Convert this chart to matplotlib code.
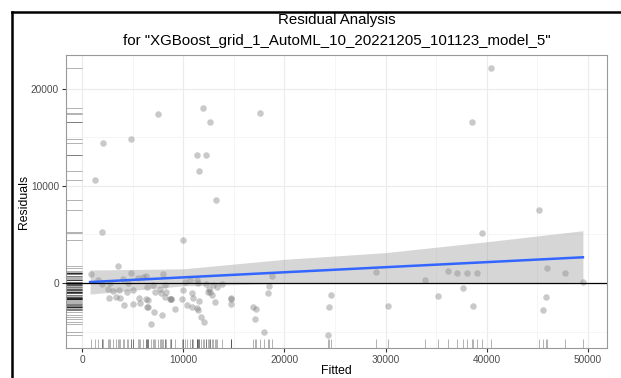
import numpy as np
import matplotlib.pyplot as plt
from matplotlib.lines import Line2D

plt.rcParams['font.family'] = ['Liberation Sans', 'DejaVu Sans']

model_id = "XGBoost_grid_1_AutoML_10_20221205_101123_model_5"

fitted = [
    3560, 860, 4810, 6350, 5560, 6030, 4080, 8030, 4540, 2770,
    1950, 2600, 3090, 3630, 4420, 5070, 6450, 6990, 7710, 7240,
    7830, 2700, 3360, 3750, 5660, 6320, 6520, 8230, 8690, 4180,
    5070, 5730, 6450, 6550, 7110, 7900, 6820, 1580,
    10180, 10670, 11390, 11490, 12220, 12970, 13370, 13860, 8200, 8300,
    8760, 8800, 10010, 9880, 10870, 11000, 11530, 12520, 12650, 12870,
    13140, 12420, 9220, 10340, 10840, 11390, 11430, 11760, 12080, 14690,
    14720, 14750,
    16870, 17190, 17060, 17980, 18480, 18400, 18800, 24600, 24370, 24340,
    29020, 30200, 33920, 35200, 36190, 37080, 37670, 38070, 38600, 39030,
    39490, 45970, 47690, 49530, 45810, 45550,
    40410, 7480, 11990, 12650, 17590, 2110, 4810, 11360, 12250, 11530,
    1250, 13210, 1980, 38560, 45120, 10010,
]

residuals = [
    1720, 900, 1030, 750, 520, 620, 380, 900, 30, -30,
    -100, -590, -820, -720, -930, -720, -380, -210, -650, -960,
    -1060, -1550, -1410, -1580, -1550, -1650, -1750, -1440, -1620, -2270,
    -2170, -2030, -2440, -2510, -2990, -3330, -4190, 310,
    130, 310, 310, 30, -100, -210, -380, -130, -210, -900,
    -1680, -1700, -720, -1680, -1000, -1520, -1820, -650, -900, -1240,
    -1990, -900, -2680, -2270, -2510, -2610, -2780, -3540, -4020, -1580,
    -1600, -2170,
    -2440, -2650, -3680, -5080, -340, -1060, 690, -1270, -2440, -5360,
    1100, -2400, 340, -1310, 1240, 1030, -520, 1030, -2400, 1060,
    5120, 1550, 1030, 100, -1440, -2780,
    22170, 17420, 18080, 16570, 17500, 14470, 14850, 13230, 13230, 11520,
    10620, 8560, 5290, 16600, 7490, 4470,
]

# linear smoother with its confidence band
smooth_x = [800, 10000, 20000, 30000, 40000, 49500]
smooth_fit = [100, 580, 1105, 1630, 2150, 2650]
smooth_lo = [-1140, -300, -50, 0, 30, 70]
smooth_hi = [1340, 1460, 2440, 3130, 4250, 5390]

fig = plt.figure(figsize=(6.21, 3.78), dpi=100)
ax = fig.add_axes([66 / 621, 1 - 348 / 378, 541 / 621, 293 / 378])

ax.set_xlim(-1580, 51880)
ax.set_ylim(-6700, 23500)

ax.set_xticks([0, 10000, 20000, 30000, 40000, 50000])
ax.set_yticks([0, 10000, 20000])
ax.set_xticks([5000, 15000, 25000, 35000, 45000], minor=True)
ax.set_yticks([-5000, 5000, 15000], minor=True)
ax.grid(which='major', color='#EBEBEB', lw=0.8, zorder=0)
ax.grid(which='minor', color='#F2F2F2', lw=0.5, zorder=0)
ax.tick_params(which='minor', length=0)
ax.tick_params(which='major', length=3, width=0.8, color='#333333',
               labelsize=7.3, labelcolor='#4D4D4D', pad=2)
for s in ax.spines.values():
    s.set_color('#999999')
    s.set_linewidth(0.8)

ax.scatter(fitted, residuals, s=22, color='#7A7A7A', alpha=0.4,
           linewidths=0, zorder=3)

ax.fill_between(smooth_x, smooth_lo, smooth_hi, color='#999999', alpha=0.4,
                linewidth=0, zorder=4)
ax.plot(smooth_x, smooth_fit, color='#3366FF', lw=1.8, zorder=5)
ax.axhline(0, color='black', lw=0.9, zorder=6)

# rugs along both axes
ax.vlines(fitted, 0, 0.03, transform=ax.get_xaxis_transform(),
          color='black', alpha=0.3, lw=0.7, zorder=2)
ax.hlines(residuals, 0, 0.03, transform=ax.get_yaxis_transform(),
          color='black', alpha=0.3, lw=0.7, zorder=2)

ax.set_xlabel('Fitted', fontsize=8.8, labelpad=0)
ax.set_ylabel('Residuals', fontsize=8.8, labelpad=1)

fig.text(336.5 / 621, 1 - 20 / 378, 'Residual Analysis', ha='center',
         va='center', fontsize=10.8)
fig.text(336.5 / 621, 1 - 41 / 378, 'for "%s"' % model_id, ha='center',
         va='center', fontsize=10.8)

# frame lines on the top and left edges
fig.add_artist(Line2D([11.5 / 621, 11.5 / 621], [0, 1 - 11.5 / 378],
                      color='black', lw=1.8))
fig.add_artist(Line2D([11.5 / 621, 1.01], [1 - 11.5 / 378, 1 - 11.5 / 378],
                      color='black', lw=1.8))

fig.savefig('out.png', dpi=100)
